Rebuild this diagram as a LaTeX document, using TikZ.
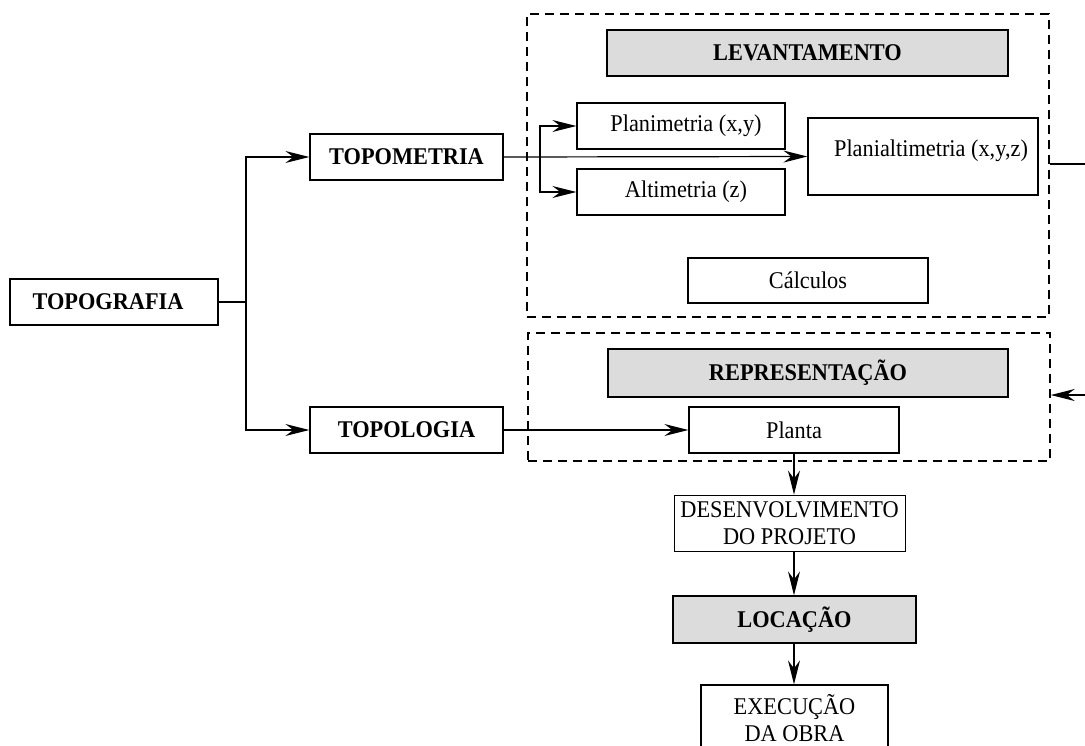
\documentclass[tikz,border=0pt]{standalone}
\usepackage{fontspec}
\setmainfont{Liberation Serif}[FakeStretch=0.93]
\usetikzlibrary{arrows.meta}
\definecolor{boxgray}{HTML}{DCDCDC}
\tikzset{
  txt/.style={font=\fontsize{24}{27}\selectfont},
  box/.style={draw, line width=1.2pt, inner sep=0pt, align=center, txt},
  boldbox/.style={box, font=\fontsize{24}{27}\selectfont\bfseries},
  graybox/.style={boldbox, fill=boxgray},
  dashbox/.style={draw, line width=1.5pt, dash pattern=on 9pt off 6pt, inner sep=0pt},
  arr/.style={line width=1.2pt, -{Stealth[length=24pt, width=12pt, inset=8pt]}},
  ln/.style={line width=1.2pt}
}
\begin{document}
\begin{tikzpicture}[x=1pt, y=-1pt]
\useasboundingbox (0,0) rectangle (1085,745);
% dashed groups
\node[dashbox, minimum width=522pt, minimum height=303pt] (levbox) at (788,165.5) {};
\node[dashbox, minimum width=522pt, minimum height=128pt] (repbox) at (789,397) {};
% left nodes
\node[boldbox, minimum width=208pt, minimum height=46pt] (topografia) at (114,302) {\hspace*{-12pt}TOPOGRAFIA};
\node[boldbox, minimum width=193pt, minimum height=46pt] (topometria) at (406.5,157) {TOPOMETRIA};
\node[boldbox, minimum width=193pt, minimum height=46pt] (topologia) at (406.5,430) {TOPOLOGIA};
% levantamento
\node[graybox, minimum width=401pt, minimum height=46pt] (levantamento) at (807.5,53) {LEVANTAMENTO};
\node[box, minimum width=208pt, minimum height=46pt] (planimetria) at (681,126) {\hspace*{10pt}Planimetria (x,y)};
\node[box, minimum width=208pt, minimum height=46pt] (altimetria) at (681,192) {\hspace*{10pt}Altimetria (z)};
\node[box, minimum width=230pt, minimum height=77pt,
      label={[txt, xshift=8pt, yshift=6pt]center:Planialtimetria (x,y,z)}] (planialt) at (923,156.5) {};
\node[box, minimum width=240pt, minimum height=45pt] (calculos) at (808,280.5) {Cálculos};
% representacao
\node[graybox, minimum width=400pt, minimum height=48pt] (representacao) at (808,373) {REPRESENTAÇÃO};
\node[box, minimum width=210pt, minimum height=46pt] (planta) at (794,430) {Planta};
% bottom chain
\node[box, line width=0.9pt, minimum width=231pt, minimum height=56pt] (desenv) at (789.5,523) {DESENVOLVIMENTO\\DO PROJETO};
\node[graybox, minimum width=243pt, minimum height=47pt] (locacao) at (794.5,619.5) {LOCAÇÃO};
\node[box, minimum width=187pt, minimum height=66pt] (execucao) at (794.5,718) {EXECUÇÃO\\DA OBRA};
% connectors
\coordinate (b1) at (246,302);
\draw[ln] (topografia.east) -- (b1);
\draw[arr] (b1) |- (topometria.west);
\draw[arr] (b1) |- (topologia.west);
\draw[arr] (topometria.east) -- (planialt.west);
\coordinate (b2) at (540,157);
\draw[arr] (b2) |- (planimetria.west);
\draw[arr] (b2) |- (altimetria.west);
\draw[arr] (topologia.east) -- (planta.west);
\coordinate (outA) at (1095,164);
\coordinate (outB) at (1095,395);
\draw[ln] (levbox.east |- outA) -- (outA);
\draw[arr] (outB) -- (outB -| repbox.east);
\draw[arr] (planta.south) -- (planta.south |- desenv.north);
\draw[arr] (planta.south |- desenv.south) -- (planta.south |- locacao.north);
\draw[arr] (planta.south |- locacao.south) -- (planta.south |- execucao.north);
\end{tikzpicture}
\end{document}
